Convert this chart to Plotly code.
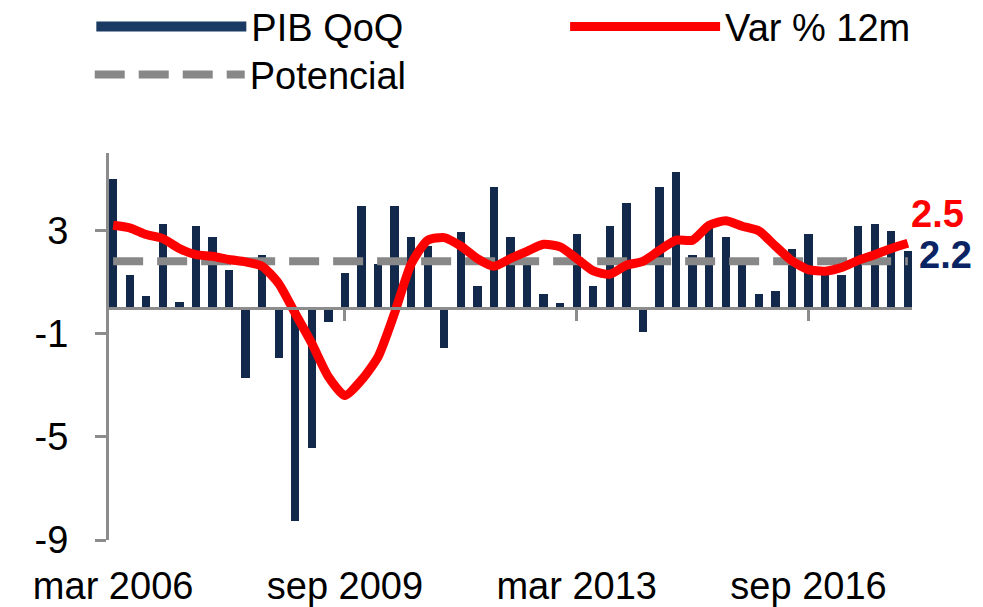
import plotly.graph_objects as go

# ---------------- data ----------------
quarters = list(range(49))  # mar 2006 ... mar 2018 (quarterly)
tick_idx = [0, 14, 28, 42]
tick_labels = ["mar 2006", "sep 2009", "mar 2013", "sep 2016"]

pib_qoq = [5.0, 1.26, 0.45, 3.26, 0.23, 3.17, 2.75, 1.46, -2.74, 2.06,
           -1.94, -8.27, -5.45, -0.54, 1.35, 3.95, 1.71, 3.95, 2.75, 2.39,
           -1.54, 2.94, 0.85, 4.68, 2.75, 1.8, 0.55, 0.17, 2.85, 0.85,
           3.17, 4.07, -0.93, 4.68, 5.26, 2.06, 3.1, 2.75, 1.7, 0.55,
           0.66, 2.26, 2.85, 1.5, 1.26, 3.17, 3.26, 2.97, 2.2]

var_12m = [3.2, 3.1, 2.84, 2.68, 2.3, 2.06, 2.0, 1.87, 1.78, 1.61,
           0.94, -0.22, -1.38, -2.67, -3.4, -2.8, -1.9, -0.2, 1.7, 2.62,
           2.72, 2.39, 1.91, 1.61, 1.91, 2.19, 2.46, 2.36, 1.91, 1.43,
           1.3, 1.65, 1.8, 2.23, 2.62, 2.62, 3.2, 3.37, 3.16, 2.98,
           2.39, 1.82, 1.48, 1.42, 1.56, 1.84, 2.06, 2.3, 2.5]

potencial = [1.8] * 49

y_ticks = [-9, -5, -1, 3]
y_tick_labels = ["-9", "-5", "-1", "3"]

# ---------------- style ----------------
FONT = "Liberation Sans, Arial, sans-serif"
NAVY = "#12294B"
RED = "#FF0000"
GREY = "#888888"
AXIS = "#8C8C8C"
FS = 38

fig = go.Figure()

fig.add_trace(go.Bar(x=quarters, y=pib_qoq, marker=dict(color=NAVY, line=dict(width=0)),
                     width=0.5, showlegend=False, name="PIB QoQ"))
# legend stand-in for the bars
fig.add_trace(go.Scatter(x=[None], y=[None], mode="lines", name="PIB QoQ",
                         line=dict(color="#1B3A63", width=20), legend="legend"))
fig.add_trace(go.Scatter(x=quarters, y=potencial, mode="lines", name="Potencial",
                         line=dict(color=GREY, width=8, dash="30px,14px"), legend="legend3"))
fig.add_trace(go.Scatter(x=quarters, y=var_12m, mode="lines", name="Var % 12m",
                         line=dict(color=RED, width=9, shape="spline", smoothing=0.6),
                         legend="legend2"))

# zero axis with tick marks
fig.add_trace(go.Scatter(x=[quarters[0]], y=[None], xaxis="x2", showlegend=False, hoverinfo="skip"))

leg_common = dict(font=dict(family=FONT, size=FS, color="#000000"), bgcolor="rgba(0,0,0,0)",
                  itemwidth=150, xanchor="left", yanchor="middle", borderwidth=0)

# the page body adds an 8px offset, so the figure is 8px smaller than the window
fig.update_layout(
    width=975, height=599,
    margin=dict(l=101, r=71, t=145, b=67, autoexpand=False),
    paper_bgcolor="white", plot_bgcolor="white",
    font=dict(family=FONT, size=FS, color="#000000"),
    bargap=0,
    xaxis=dict(range=[-0.25, 48.25], tickvals=tick_idx, ticktext=tick_labels,
               showline=False, showgrid=False, zeroline=False, ticks="",
               ticklabelstandoff=20, tickfont=dict(size=FS)),
    xaxis2=dict(range=[-0.25, 48.25], overlaying="x", anchor="free", position=0.6,
                tickvals=tick_idx[1:], showticklabels=False, showline=True, linecolor=AXIS,
                linewidth=3, ticks="outside", ticklen=11, tickwidth=3, tickcolor=AXIS,
                showgrid=False, zeroline=False),
    yaxis=dict(range=[-9, 6], tickvals=y_ticks, ticktext=y_tick_labels,
               showgrid=False, zeroline=False,
               showline=True, linecolor=AXIS, linewidth=3, ticks="outside", ticklen=11,
               tickwidth=3, tickcolor=AXIS, ticklabelstandoff=19, tickfont=dict(size=FS)),
    legend=dict(x=-0.022, y=1.326, **leg_common),
    legend2=dict(x=0.568, y=1.326, **leg_common),
    legend3=dict(x=-0.024, y=1.202, **leg_common),
)

fig.add_annotation(x=quarters[-1], y=var_12m[-1], text=f"<b>{var_12m[-1]:.1f}</b>",
                   showarrow=False, xanchor="left", yanchor="middle", xshift=1, yshift=29,
                   font=dict(family=FONT, size=FS, color=RED))
fig.add_annotation(x=quarters[-1], y=pib_qoq[-1], text=f"<b>{pib_qoq[-1]:.1f}</b>",
                   showarrow=False, xanchor="left", yanchor="middle", xshift=9, yshift=-4,
                   font=dict(family=FONT, size=FS, color="#0A2463"))

fig.write_html("out.html")
